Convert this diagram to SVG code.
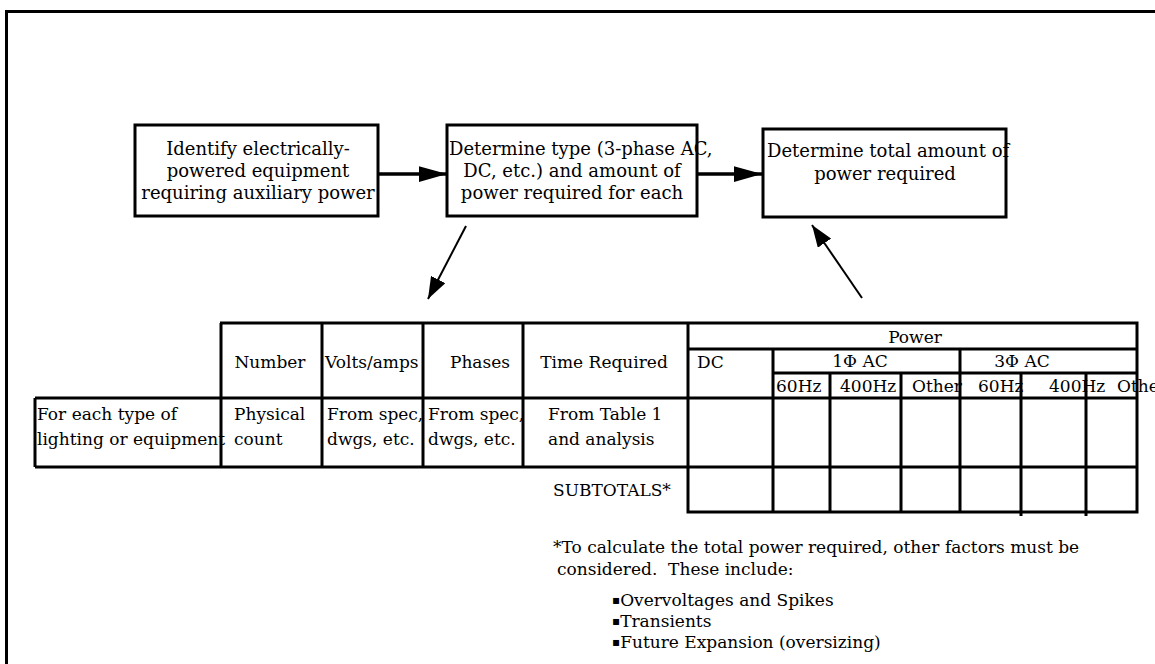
<svg xmlns="http://www.w3.org/2000/svg" width="1155" height="664" viewBox="0 0 1155 664">
<style>
text{font-family:"DejaVu Serif","Liberation Serif",serif;font-size:17px;fill:#000}
.b{font-size:18px}
.c{text-anchor:middle}
.box{fill:#fff;stroke:#000;stroke-width:3}
.t{stroke:#000;stroke-width:3;fill:none}
.thick{stroke:#000;stroke-width:3.5;fill:none}
.thin{stroke:#000;stroke-width:2;fill:none}
.sq{font-size:12px}
</style>
<defs>
<marker id="ah" viewBox="0 0 10 10" refX="10" refY="5" markerWidth="8" markerHeight="4.5" markerUnits="strokeWidth" orient="auto" preserveAspectRatio="none"><path d="M0,0 L10,5 L0,10 z" fill="#000"/></marker>
<marker id="ah2" viewBox="0 0 10 10" refX="10" refY="5" markerWidth="11" markerHeight="8" markerUnits="strokeWidth" orient="auto" preserveAspectRatio="none"><path d="M0,0 L10,5 L0,10 z" fill="#000"/></marker>
</defs>
<rect width="1155" height="664" fill="#fff"/>
<g id="frame"><path class="t" d="M6.5,664 V11.5 H1155"/></g>

<g id="n1"><rect class="box" x="135" y="125" width="243" height="91"/>
<text class="b c" x="258" y="155">Identify electrically-</text>
<text class="b c" x="258" y="177">powered equipment</text>
<text class="b c" x="258" y="199">requiring auxiliary power</text></g>

<g id="n2"><rect class="box" x="447" y="125" width="250" height="91"/>
<text class="b" x="449" y="155">Determine type (3-phase AC,</text>
<text class="b c" x="572" y="177">DC, etc.) and amount of</text>
<text class="b c" x="572" y="199">power required for each</text></g>

<g id="n3"><rect class="box" x="763" y="129" width="243" height="88"/>
<text class="b" x="767" y="157">Determine total amount of</text>
<text class="b c" x="885" y="180">power required</text></g>

<g id="connectors">
<line class="thick" x1="378" y1="174" x2="447" y2="174" marker-end="url(#ah)"/>
<line class="thick" x1="697" y1="174" x2="762" y2="174" marker-end="url(#ah)"/>
<line class="thin" x1="466" y1="226" x2="428" y2="299" marker-end="url(#ah2)"/>
<line class="thin" x1="862" y1="298" x2="812" y2="225" marker-end="url(#ah2)"/>
</g>

<g id="table">
<path class="t" d="M220,323 H1137 V512 H688 V323 M35,398 H1137 M35,467 H1137 M35,398 V467 M773,373 H1137 M688,349 H1137 M773,349 V512 M830,373 V512 M901,373 V512"/>
<text class="c" x="270" y="368">Number</text>
<text x="325" y="368">Volts/amps</text>
<text class="c" x="480" y="368">Phases</text>
<text class="c" x="604" y="368">Time Required</text>
<text class="c" x="915" y="343">Power</text>
<text x="697" y="368">DC</text>
<text class="c" x="860" y="367">1Φ AC</text>
<text class="c" x="1022" y="367">3Φ AC</text>
<text x="776" y="392">60Hz</text>
<text x="840" y="392">400Hz</text>
<text x="912" y="392">Other</text>
<text x="978" y="392">60Hz</text>
<text x="1049" y="392">400Hz</text>
<text x="1117" y="392">Other</text>
<text x="37" y="420">For each type of</text>
<text x="37" y="445">lighting or equipment</text>
<text x="234" y="420">Physical</text>
<text x="234" y="445">count</text>
<text x="327" y="420">From spec,</text>
<text x="327" y="445">dwgs, etc.</text>
<text x="428" y="420">From spec,</text>
<text x="428" y="445">dwgs, etc.</text>
<text x="548" y="420">From Table 1</text>
<text x="548" y="445">and analysis</text>
<text x="553" y="496">SUBTOTALS*</text>
<path class="t" d="M221,323 V467 M322,323 V467 M423,323 V467 M523,323 V467 M960,349 V512 M1021,373 V516 M1086,373 V516"/>
</g>

<g id="note">
<text x="553" y="553">*To calculate the total power required, other factors must be</text>
<text x="557" y="575">considered.&#160; These include:</text>
<text x="612" y="606"><tspan class="sq" dy="-2">▪</tspan><tspan dy="2">Overvoltages and Spikes</tspan></text>
<text x="612" y="627"><tspan class="sq" dy="-2">▪</tspan><tspan dy="2">Transients</tspan></text>
<text x="612" y="648"><tspan class="sq" dy="-2">▪</tspan><tspan dy="2">Future Expansion (oversizing)</tspan></text>
</g>
</svg>
